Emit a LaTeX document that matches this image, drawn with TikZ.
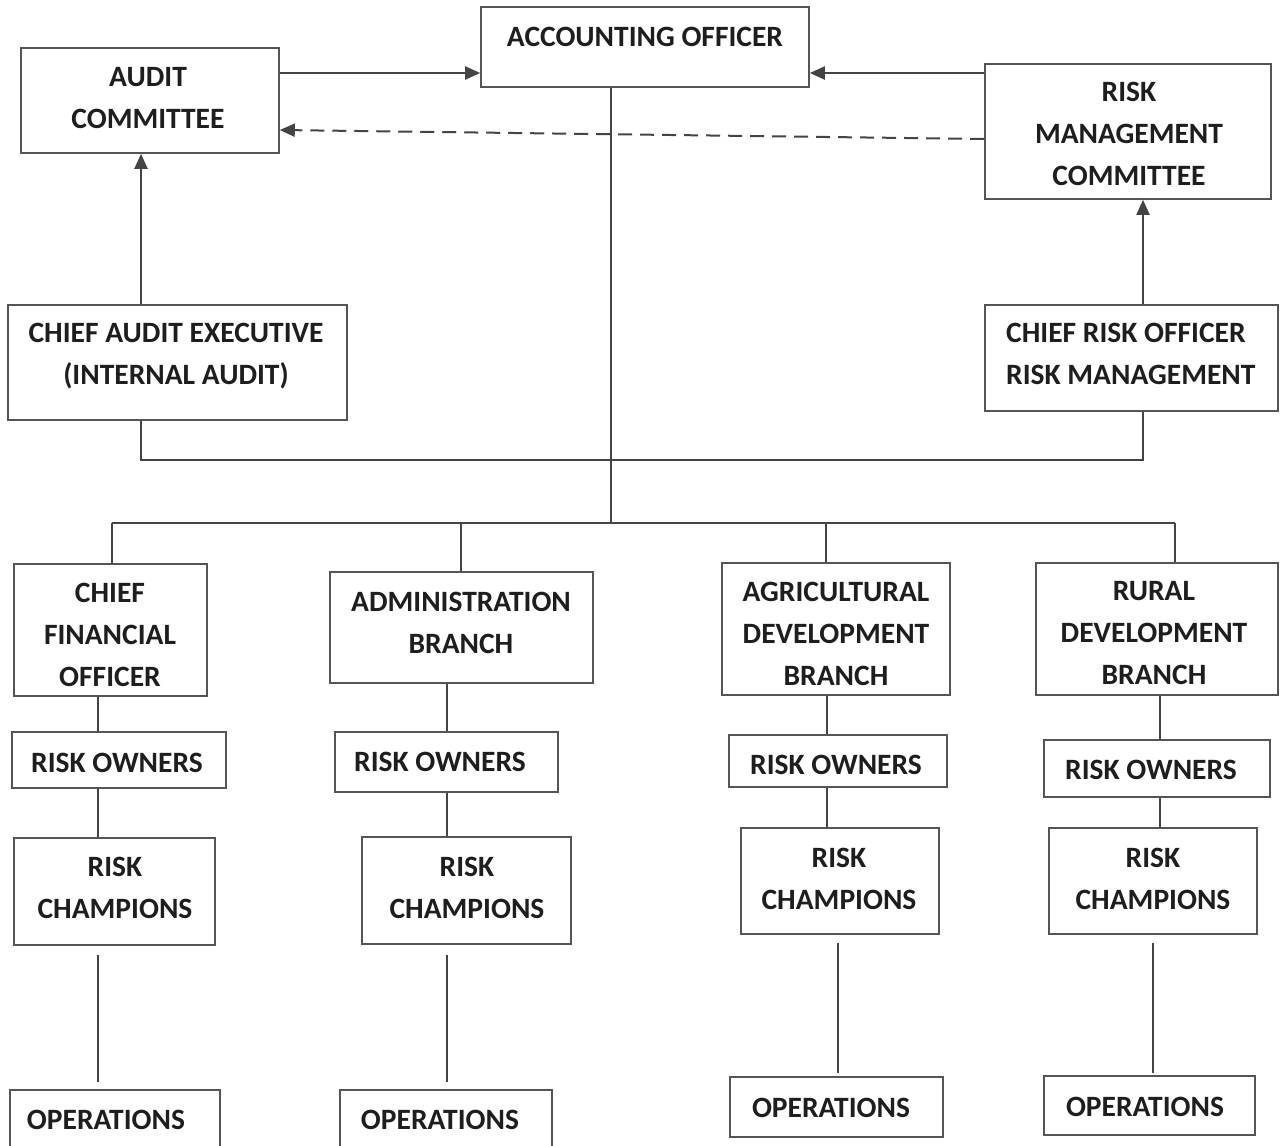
\documentclass[tikz,border=0pt]{standalone}
\usepackage{fontspec}
\setmainfont{Carlito}
\usetikzlibrary{arrows.meta}
\definecolor{ln}{HTML}{444444}
\definecolor{bx}{HTML}{555555}
\definecolor{tx}{HTML}{1E1E1E}
\begin{document}
\begin{tikzpicture}[x=1pt,y=-1pt,
  box/.style={draw=bx,line width=1.6pt,inner sep=0pt,fill=none},
  txt/.style={inner sep=0pt,text=tx,font=\fontsize{29.5}{42}\selectfont\bfseries,align=center},
  conn/.style={draw=ln,line width=2pt},
  arr/.style={draw=ln,line width=2pt,-{Triangle[length=15pt,width=13pt]}},
  dsh/.style={dash pattern=on 14pt off 8pt}]
\clip (0,0) rectangle (1280,1146);
\fill[white] (0,0) rectangle (1280,1146);
% boxes
\node[box,minimum width=328pt,minimum height=80pt] (ao) at (645,47) {};
\node[box,minimum width=258pt,minimum height=105pt] (ac) at (150,100.5) {};
\node[box,minimum width=286pt,minimum height=135pt] (rmc) at (1128,131.5) {};
\node[box,minimum width=339pt,minimum height=115pt] (cae) at (177.5,362.5) {};
\node[box,minimum width=293pt,minimum height=106pt] (cro) at (1131.5,358) {};
\node[box,minimum width=193pt,minimum height=132pt] (cfo) at (110.5,630) {};
\node[box,minimum width=263pt,minimum height=111pt] (adm) at (461.5,627.5) {};
\node[box,minimum width=228pt,minimum height=132pt] (agr) at (836,629) {};
\node[box,minimum width=242pt,minimum height=132pt] (rur) at (1157,629) {};
\node[box,minimum width=214pt,minimum height=56pt] (ro1) at (119,760) {};
\node[box,minimum width=223pt,minimum height=60pt] (ro2) at (446.5,762) {};
\node[box,minimum width=218pt,minimum height=52pt] (ro3) at (838,761) {};
\node[box,minimum width=226pt,minimum height=57pt] (ro4) at (1157,768.5) {};
\node[box,minimum width=201pt,minimum height=107pt] (rc1) at (114.5,891.5) {};
\node[box,minimum width=209pt,minimum height=107pt] (rc2) at (466.5,890.5) {};
\node[box,minimum width=198pt,minimum height=106pt] (rc3) at (840,881) {};
\node[box,minimum width=208pt,minimum height=106pt] (rc4) at (1153,881) {};
\node[box,minimum width=210pt,minimum height=80pt] (op1) at (115,1130) {};
\node[box,minimum width=212pt,minimum height=80pt] (op2) at (446,1130) {};
\node[box,minimum width=213pt,minimum height=60pt] (op3) at (836.5,1107) {};
\node[box,minimum width=211pt,minimum height=59pt] (op4) at (1149.5,1105.5) {};
% texts
\node[txt] (aot) at (645,37) {ACCOUNTING OFFICER};
\node[txt] (act) at (148,98.5) {AUDIT\\COMMITTEE};
\node[txt] (rmct) at (1129,134) {RISK\\MANAGEMENT\\COMMITTEE};
\node[txt] (caet) at (176,356) {CHIEF AUDIT EXECUTIVE\\(INTERNAL AUDIT)};
\node[txt,align=left,anchor=west] (crot) at (1006,354) {CHIEF RISK OFFICER\\RISK MANAGEMENT};
\node[txt] (cfot) at (110,635) {CHIEF\\FINANCIAL\\OFFICER};
\node[txt] (admt) at (461,622.5) {ADMINISTRATION\\BRANCH};
\node[txt] (agrt) at (836,633.5) {AGRICULTURAL\\DEVELOPMENT\\BRANCH};
\node[txt] (rurt) at (1154,633.5) {RURAL\\DEVELOPMENT\\BRANCH};
\node[txt] (ro1t) at (117,763) {RISK OWNERS};
\node[txt] (ro2t) at (440,762) {RISK OWNERS};
\node[txt] (ro3t) at (836,765) {RISK OWNERS};
\node[txt] (ro4t) at (1151,770) {RISK OWNERS};
\node[txt] (rc1t) at (115,888) {RISK\\CHAMPIONS};
\node[txt] (rc2t) at (467,888) {RISK\\CHAMPIONS};
\node[txt] (rc3t) at (839,879) {RISK\\CHAMPIONS};
\node[txt] (rc4t) at (1153,879) {RISK\\CHAMPIONS};
\node[txt] (op1t) at (106,1120) {OPERATIONS};
\node[txt] (op2t) at (440,1120) {OPERATIONS};
\node[txt] (op3t) at (831,1108) {OPERATIONS};
\node[txt] (op4t) at (1145,1107) {OPERATIONS};
% junction coordinates
\coordinate (j1) at (611,523);
\coordinate (b1) at (112,523);
\coordinate (b4) at (1175,523);
\coordinate (c1) at (141,460);
\coordinate (c2) at (1143,460);
\coordinate (g1a) at (98,955);  \coordinate (g1b) at (98,1082);
\coordinate (g2a) at (447,955); \coordinate (g2b) at (447,1082);
\coordinate (g3a) at (838,943); \coordinate (g3b) at (838,1073);
\coordinate (g4a) at (1153,943);\coordinate (g4b) at (1153,1073);
% arrows
\draw[arr] (ac.east |- 0,73) -- (ao.west |- 0,73);
\draw[arr] (rmc.west |- 0,73) -- (ao.east |- 0,73);
\draw[arr,dsh] (rmc.west |- 0,139) -- (ac.east |- 0,130);
\draw[arr] (141,0 |- cae.north) -- (141,0 |- ac.south);
\draw[arr] (1143,0 |- cro.north) -- (1143,0 |- rmc.south);
% tree lines
\draw[conn] (611,0 |- ao.south) -- (j1);
\draw[conn] (141,0 |- cae.south) -- (c1) -- (c2) -- (1143,0 |- cro.south);
\draw[conn] (b1) -- (b4);
\draw[conn] (b1) -- (112,0 |- cfo.north);
\draw[conn] (461,523) -- (461,0 |- adm.north);
\draw[conn] (826,523) -- (826,0 |- agr.north);
\draw[conn] (b4) -- (1175,0 |- rur.north);
% columns
\draw[conn] (98,0 |- cfo.south) -- (98,0 |- ro1.north);
\draw[conn] (98,0 |- ro1.south) -- (98,0 |- rc1.north);
\draw[conn] (g1a) -- (g1b);
\draw[conn] (447,0 |- adm.south) -- (447,0 |- ro2.north);
\draw[conn] (447,0 |- ro2.south) -- (447,0 |- rc2.north);
\draw[conn] (g2a) -- (g2b);
\draw[conn] (827,0 |- agr.south) -- (827,0 |- ro3.north);
\draw[conn] (827,0 |- ro3.south) -- (827,0 |- rc3.north);
\draw[conn] (g3a) -- (g3b);
\draw[conn] (1160,0 |- rur.south) -- (1160,0 |- ro4.north);
\draw[conn] (1160,0 |- ro4.south) -- (1160,0 |- rc4.north);
\draw[conn] (g4a) -- (g4b);
\end{tikzpicture}
\end{document}
